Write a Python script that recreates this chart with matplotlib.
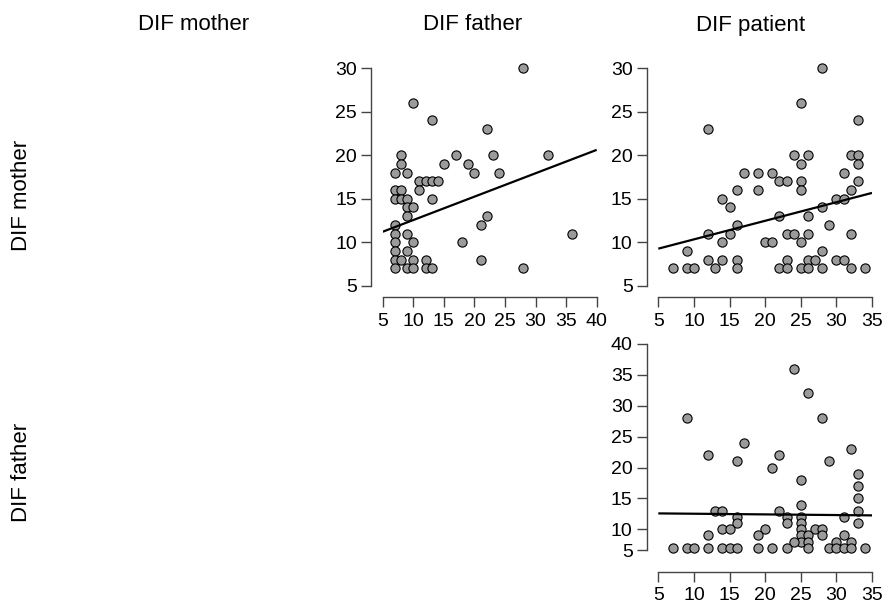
import numpy as np
import matplotlib
matplotlib.use('Agg')
import matplotlib.pyplot as plt

plt.rcParams['font.family'] = ['Liberation Sans', 'DejaVu Sans']

labels = ['DIF mother', 'DIF father', 'DIF patient']

# DIF father (x) vs DIF mother (y)
fa_x = [10, 13, 22, 8, 17, 23, 32, 28, 8, 15, 19, 7, 9, 20, 24, 11, 12, 13, 14, 11,
        7, 8, 7, 8, 9, 13, 9, 10, 9, 7, 7, 9, 22, 21, 7, 10, 18, 36, 7, 9,
        7, 8, 10, 12, 21, 7, 9, 10, 12, 13, 28]
mo_y = [26, 24, 23, 20, 20, 20, 20, 30, 19, 19, 19, 18, 18, 18, 18, 17, 17, 17, 17, 16,
        16, 16, 15, 15, 15, 15, 14, 14, 13, 12, 11, 11, 13, 12, 10, 10, 10, 11, 9, 9,
        8, 8, 8, 8, 8, 7, 7, 7, 7, 7, 7]
fit_fa_mo = (9.86, 0.269)  # intercept, slope

# DIF patient (x) vs DIF mother (y)
pa_x1 = [12, 17, 16, 14, 15, 16, 12, 15, 14, 9, 12, 14, 16, 7, 9, 10, 13, 16,
         28, 25, 33, 24, 26, 32, 33, 25, 33, 19, 21, 31, 22, 23, 25, 33, 19, 25, 32,
         30, 31, 28, 22, 26, 29, 23, 24, 26, 32, 20, 21, 25, 28, 23, 26, 27, 30, 31,
         22, 23, 25, 26, 28, 32, 34]
mo_y2 = [23, 18, 16, 15, 14, 12, 11, 11, 10, 9, 8, 8, 8, 7, 7, 7, 7, 7,
         30, 26, 24, 20, 20, 20, 20, 19, 19, 18, 18, 18, 17, 17, 17, 17, 16, 16, 16,
         15, 15, 14, 13, 13, 12, 11, 11, 11, 11, 10, 10, 10, 9, 8, 8, 8, 8, 8,
         7, 7, 7, 7, 7, 7, 7]
fit_pa_mo = (8.19, 0.2137)

# DIF patient (x) vs DIF father (y)
pa_x2 = [9, 17, 12, 16, 13, 14, 16, 16, 14, 15, 12, 7, 9, 10, 12, 14, 15, 16,
         24, 26, 28, 32, 22, 21, 29, 25, 33, 33, 33, 33, 33, 25, 22, 23, 23,
         25, 25, 25, 25, 25, 31, 27, 28, 20, 19, 28, 26, 31, 24, 26, 30, 32,
         19, 21, 23, 26, 29, 30, 31, 32, 34]
fa_y = [28, 24, 22, 21, 13, 13, 12, 11, 10, 10, 9, 7, 7, 7, 7, 7, 7, 7,
        36, 32, 28, 23, 22, 20, 21, 18, 19, 17, 15, 13, 11, 14, 13, 12, 11,
        12, 11, 10, 9, 8, 12, 10, 10, 10, 9, 9, 9, 9, 8, 8, 8, 8,
        7, 7, 7, 7, 7, 7, 7, 7, 7]
fit_pa_fa = (12.63, -0.0107)

W, H = 883, 605
fig = plt.figure(figsize=(W / 100, H / 100), dpi=100)


def box(x0, x1, ytop, ybot):
    return [x0 / W, 1 - ybot / H, (x1 - x0) / W, (ybot - ytop) / H]


def panel(rect, x, y, fit, xlim, ylim, xt, yt, ytl=None, ybound=None):
    ax = fig.add_axes(rect)
    ax.scatter(x, y, s=44, c='#9b9b9b', edgecolors='black', linewidths=0.8,
               clip_on=False, zorder=3)
    xs = np.array(xlim)
    ax.plot(xs, fit[0] + fit[1] * xs, color='black', lw=1.6, zorder=4,
            solid_capstyle='butt')
    ax.set_xlim(xlim)
    ax.set_ylim(ylim)
    ax.set_xticks(xt)
    ax.set_yticks(yt)
    if ytl is not None:
        ax.set_yticklabels(ytl)
    for s in ['top', 'right']:
        ax.spines[s].set_visible(False)
    for s in ['left', 'bottom']:
        ax.spines[s].set_position(('outward', 8.4))
        ax.spines[s].set_color('#444444')
        ax.spines[s].set_linewidth(1.0)
    ax.spines['bottom'].set_bounds(xt[0], xt[-1])
    if ybound is None:
        ybound = (yt[0], yt[-1])
    ax.spines['left'].set_bounds(*ybound)
    ax.tick_params(length=7, width=1.0, color='#444444', labelsize=14,
                   labelcolor='black')
    ax.tick_params(axis='x', pad=4)
    ax.tick_params(axis='y', pad=3)
    ax.patch.set_alpha(0)
    return ax


panel(box(382.7, 596.7, 68.3, 285.7), fa_x, mo_y, fit_fa_mo,
      (5, 40), (5, 30), list(range(5, 41, 5)), list(range(5, 31, 5)))
panel(box(658.3, 872, 68.3, 285.7), pa_x1, mo_y2, fit_pa_mo,
      (5, 35), (5, 30), list(range(5, 36, 5)), list(range(5, 31, 5)))
# the lowest y tick sits above the axis floor in the reference
yt3 = [6.65] + list(range(10, 41, 5))
panel(box(658.3, 872, 344, 560.2), pa_x2, fa_y, fit_pa_fa,
      (5, 35), (5, 40), list(range(5, 36, 5)), yt3,
      ytl=[str(v) for v in range(5, 41, 5)], ybound=(6.65, 40))

# column and row headings
for lab, xc in zip(labels, [194, 473, 751]):
    fig.text(xc / W, 1 - 25 / H, lab, ha='center', va='center', fontsize=16)
for lab, yc in zip(labels[:2], [195, 472]):
    fig.text(22 / W, 1 - yc / H, lab, ha='center', va='center', fontsize=16,
             rotation=90)

fig.savefig('out.png', dpi=100)
